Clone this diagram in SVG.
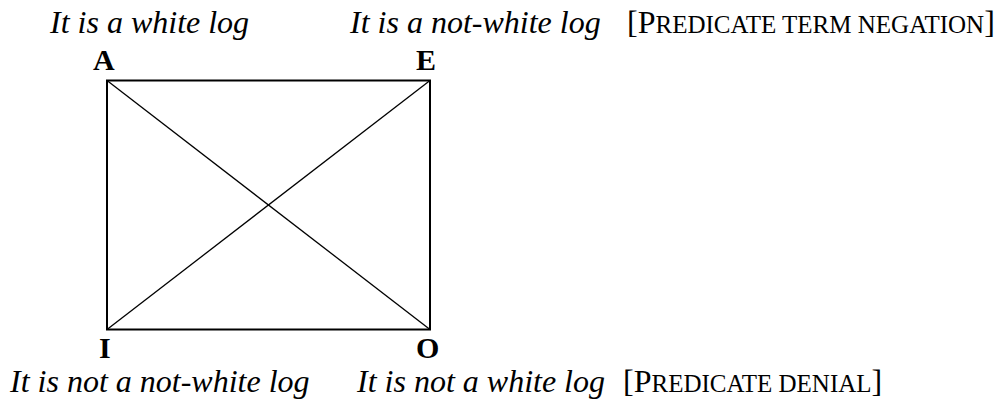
<svg xmlns="http://www.w3.org/2000/svg" width="1004" height="403" viewBox="0 0 1004 403">
<style>
.it{font-family:"Liberation Serif","Times New Roman",serif;font-style:italic;font-size:32px;fill:#000}
.lb{font-family:"Liberation Serif","Times New Roman",serif;font-weight:bold;font-size:30px;fill:#000}
.sc{font-family:"Liberation Serif","Times New Roman",serif;font-size:32px;fill:#000}
.sm{font-size:25px}
.box{fill:none;stroke:#000;stroke-width:2}
.diag{stroke:#000;stroke-width:1.3}
</style>
<rect width="1004" height="403" fill="#fff"/>
<g id="connectors">
<rect class="box" x="107" y="80.5" width="323" height="249"/>
<line class="diag" x1="107" y1="80.5" x2="430" y2="329.5"/>
<line class="diag" x1="430" y1="80.5" x2="107" y2="329.5"/>
</g>
<g id="nodeA">
<text class="it" x="50" y="33">It is a white log</text>
<text class="lb" x="93" y="70">A</text>
</g>
<g id="nodeE">
<text class="it" x="350" y="33">It is a not-white log</text>
<text class="lb" x="416" y="70">E</text>
<text class="sc" x="627" y="33">[P<tspan class="sm">REDICATE TERM NEGATION</tspan>]</text>
</g>
<g id="nodeI">
<text class="lb" x="99" y="358">I</text>
<text class="it" x="10" y="392">It is not a not-white log</text>
</g>
<g id="nodeO">
<text class="lb" x="416" y="358">O</text>
<text class="it" x="357" y="392">It is not a white log</text>
<text class="sc" x="623" y="392">[P<tspan class="sm">REDICATE DENIAL</tspan>]</text>
</g>
</svg>
